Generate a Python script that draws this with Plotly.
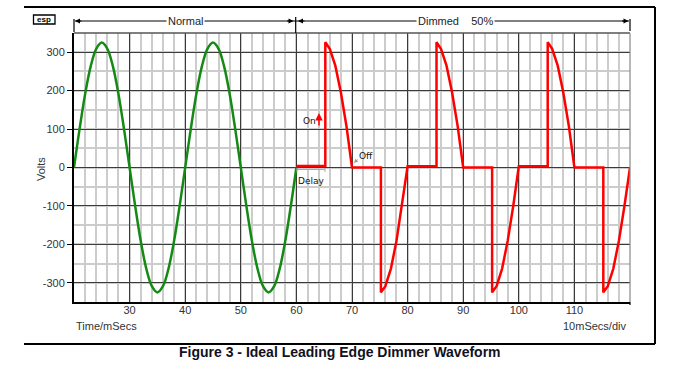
import plotly.graph_objects as go

# ---- data ----
normal_t = [20, 21, 22, 23, 24, 25, 26, 27, 28, 29, 30, 31, 32, 33, 34, 35, 36, 37, 38, 39, 40,
            41, 42, 43, 44, 45, 46, 47, 48, 49, 50, 51, 52, 53, 54, 55, 56, 57, 58, 59, 60]
normal_v = [0, 100, 191, 263, 309, 325, 309, 263, 191, 100, 0, -100, -191, -263, -309, -325, -309, -263, -191, -100, 0,
            100, 191, 263, 309, 325, 309, 263, 191, 100, 0, -100, -191, -263, -309, -325, -309, -263, -191, -100, 0]

dimmed_t = [60, 65.2, 65.2, 66, 67, 68, 69, 70, 75.2, 75.2, 76, 77, 78, 79, 80,
            85.2, 85.2, 86, 87, 88, 89, 90, 95.2, 95.2, 96, 97, 98, 99, 100,
            105.2, 105.2, 106, 107, 108, 109, 110, 115.2, 115.2, 116, 117, 118, 119, 120]
dimmed_v = [4, 4, 326, 309, 265, 195, 108, 0, 0, -325, -309, -263, -191, -100, 3,
            3, 326, 309, 265, 195, 108, 0, 0, -325, -309, -263, -191, -100, 3,
            3, 326, 309, 265, 195, 108, 0, 0, -325, -309, -263, -191, -100, 0]

x_ticks = [30, 40, 50, 60, 70, 80, 90, 100, 110]
y_ticks = [-300, -200, -100, 0, 100, 200, 300]
y_labels = ["-300", "-200", "-100", "0", "100", "200", "300"]

W, H = 697, 369
L, R, T, B = 74, 630, 33, 302


def px(x):
    return (x - L) / (R - L)


def py(y):
    return (B - y) / (B - T)


FONT = "Liberation Sans, Arial, sans-serif"
SMALL = "DejaVu Sans, sans-serif"


def label(x, y, text, size=11, color="#333", family=FONT, **kw):
    d = dict(xref="paper", yref="paper", x=px(x), y=py(y), text=text, showarrow=False,
             xanchor="center", yanchor="middle", font=dict(family=family, size=size, color=color))
    d.update(kw)
    return d


fig = go.Figure()
fig.add_trace(go.Scatter(x=normal_t, y=normal_v, mode="lines",
                         line=dict(color="#148a14", width=2.5, shape="spline", smoothing=1),
                         hoverinfo="skip", showlegend=False))
fig.add_trace(go.Scatter(x=dimmed_t, y=dimmed_v, mode="lines",
                         line=dict(color="#ff0000", width=2.5),
                         hoverinfo="skip", showlegend=False))

shapes = []
annotations = []


def seg(x0, y0, x1, y1, color="black", width=1.0):
    shapes.append(dict(type="line", xref="paper", yref="paper", x0=px(x0), y0=py(y0),
                       x1=px(x1), y1=py(y1), line=dict(color=color, width=width)))


# outer frame (top, right, bottom)
seg(24, 7, 655, 7, width=2)
seg(655, 7, 655, 344, width=2)
seg(24, 344, 655, 344, width=2)
# plot borders top/right
seg(L, T, R, T, color="#555", width=1.5)
seg(R, T, R, B, color="#888", width=1.2)
seg(R, B, R, 305, color="black", width=1.2)

# dimension line at top
dy = 21
seg(75, dy, 629, dy)
seg(74, 19, 74, 32, width=1.2)
seg(295.7, 17, 295.7, 33, width=1.2)
seg(630, 19, 630, 31, width=1.2)
for head, off in [(75, 8), (293.5, -8), (298, 8), (628.5, -8)]:
    annotations.append(dict(xref="paper", yref="paper", x=px(head), y=py(dy), ax=off, ay=0,
                            text="", showarrow=True, arrowhead=2, arrowsize=1, arrowwidth=1,
                            arrowcolor="black"))
annotations.append(label(185, dy, "Normal", color="#222", bgcolor="white", borderpad=1))
annotations.append(label(456, dy, "Dimmed\u00a0\u00a0\u00a0\u00a050%", color="#222", bgcolor="white", borderpad=1))

# esp logo
shapes.append(dict(type="rect", xref="paper", yref="paper", x0=px(33.5), y0=py(15), x1=px(55), y1=py(24),
                   line=dict(color="black", width=1.3), fillcolor="white"))
annotations.append(label(44.3, 19.3, "<b>esp</b>", size=8, color="black"))

# On / Off / Delay annotations
annotations.append(label(309.5, 120.5, "On", size=9, color="#111", family=SMALL))
annotations.append(dict(xref="paper", yref="paper", x=px(319), y=py(113), ax=0, ay=14, text="",
                        showarrow=True, arrowhead=2, arrowsize=1, arrowwidth=1.5, arrowcolor="#ff0000"))
annotations.append(label(365.5, 155.5, "Off", size=9, color="#111", family=SMALL))
annotations.append(dict(xref="paper", yref="paper", x=px(354), y=py(163), ax=5, ay=-5, text="",
                        showarrow=True, arrowhead=2, arrowsize=0.8, arrowwidth=1, arrowcolor="#999"))
seg(297, 169.5, 325, 169.5, color="#aaa")
seg(297, 168, 297, 172, color="#aaa")
seg(325, 168, 325, 172, color="#aaa")
annotations.append(label(311, 180.5, "Delay", size=9, color="#111", family=SMALL))

# axis texts
annotations.append(label(41, 169, "Volts", textangle=-90))
annotations.append(label(74, 326, "Time/mSecs", xanchor="left"))
annotations.append(label(628, 326, "10mSecs/div", xanchor="right"))
annotations.append(label(339.5, 352, "<b>Figure 3 - Ideal Leading Edge Dimmer Waveform</b>", size=14,
                         color="#111122"))

fig.update_layout(
    width=W, height=H,
    margin=dict(l=L, r=W - R, t=T, b=H - B, pad=0),
    paper_bgcolor="white", plot_bgcolor="white",
    shapes=shapes, annotations=annotations,
    xaxis=dict(range=[20, 120], tickmode="array", tickvals=x_ticks, ticks="",
               ticklabelstandoff=-3,
               showgrid=True, gridcolor="#3a3a3a", gridwidth=1.3,
               minor=dict(tickmode="linear", tick0=0, dtick=2, showgrid=True, gridcolor="#cccccc", gridwidth=1.5),
               showline=True, linecolor="black", linewidth=2, zeroline=False,
               tickfont=dict(family=FONT, size=11, color="#333")),
    yaxis=dict(range=[-350, 350], tickmode="array", tickvals=y_ticks, ticktext=y_labels,
               ticks="outside", ticklen=5, tickcolor="black", tickwidth=1,
               showgrid=True, gridcolor="#3a3a3a", gridwidth=1.3,
               minor=dict(tickmode="linear", tick0=0, dtick=50, showgrid=True, gridcolor="#cccccc", gridwidth=1.5),
               showline=True, linecolor="black", linewidth=2, zeroline=False,
               tickfont=dict(family=FONT, size=11, color="#333")),
)

fig.write_html("out.html", config={"displayModeBar": False},
               post_script="document.body.style.margin='0';")
